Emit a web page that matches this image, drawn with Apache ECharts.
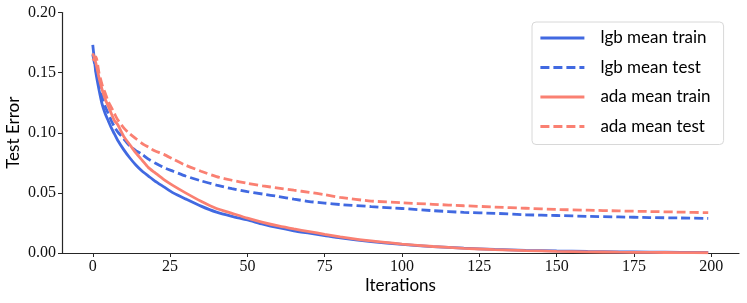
<!DOCTYPE html>
<html>
<head>
<meta charset="utf-8">
<script src="https://cdn.jsdelivr.net/npm/echarts@6/dist/echarts.min.js"></script>
<style>
html,body{margin:0;padding:0;background:#fff;}
#chart{width:747px;height:303px;}
</style>
</head>
<body>
<div id="chart"></div>
<script>
const iterations = [0,1,2,3,4,5,6,7,8,10,12,14,16,18,20,23,26,30,35,40,45,50,55,60,65,70,75,80,90,100,110,120,130,140,150,160,170,180,190,199];
const lgbTrain = [0.173,0.150,0.136,0.124,0.116,0.110,0.104,0.099,0.094,0.086,0.079,0.073,0.068,0.064,0.060,0.055,0.050,0.045,0.039,0.034,0.0305,0.0275,0.024,0.021,0.0185,0.0165,0.0145,0.0125,0.0095,0.0072,0.0053,0.0040,0.0030,0.0022,0.0017,0.0013,0.0010,0.0008,0.0006,0.0005];
const lgbTest = [0.165,0.152,0.140,0.130,0.122,0.116,0.110,0.105,0.101,0.095,0.089,0.085,0.082,0.078,0.075,0.071,0.068,0.064,0.060,0.0565,0.0535,0.051,0.049,0.047,0.0448,0.0428,0.0415,0.0403,0.0386,0.0370,0.0352,0.0338,0.0330,0.0318,0.0312,0.0305,0.0300,0.0295,0.0291,0.0288];
const adaTrain = [0.166,0.158,0.146,0.136,0.128,0.122,0.116,0.110,0.107,0.097,0.090,0.083,0.077,0.071,0.067,0.061,0.056,0.050,0.043,0.037,0.033,0.029,0.0255,0.0225,0.020,0.0178,0.0155,0.0135,0.0100,0.0074,0.0054,0.0039,0.0028,0.0020,0.0014,0.0010,0.0007,0.0005,0.0003,0.0002];
const adaTest = [0.160,0.163,0.150,0.140,0.133,0.126,0.121,0.116,0.111,0.104,0.099,0.095,0.091,0.088,0.085,0.082,0.078,0.073,0.068,0.0635,0.0605,0.058,0.0558,0.0540,0.0522,0.0505,0.0485,0.0462,0.0432,0.0418,0.0405,0.0393,0.0382,0.0372,0.0362,0.0356,0.0350,0.0345,0.0340,0.0335];
const xTicks = [0,25,50,75,100,125,150,175,200];
const seriesNames = ['lgb mean train','lgb mean test','ada mean train','ada mean test'];

const BLUE = '#4169E1', SALMON = '#FA8072';
const pair = arr => iterations.map((it, i) => [it, arr[i]]);
const mk = (name, arr, color, type) => ({
  name, type: 'line', data: pair(arr), symbol: 'none', smooth: 0.2,
  lineStyle: { color, width: 2.8, type: type === 'dashed' ? [9, 4] : 'solid' },
  itemStyle: { color }
});

const chart = echarts.init(document.getElementById('chart'), null, { renderer: 'canvas' });
chart.setOption({
  animation: false,
  backgroundColor: '#fff',
  grid: { left: 62, right: 8, top: 12.5, bottom: 50, containLabel: false, outerBoundsMode: 'none' },
  xAxis: {
    type: 'value', min: -9.95, max: 208.95,
    name: 'Iterations', nameLocation: 'middle', nameGap: 24, nameMoveOverlap: false,
    nameTextStyle: { fontFamily: 'Lato', fontSize: 17, color: '#000' },
    axisLine: { onZero: false, lineStyle: { color: '#262626', width: 1.2 } },
    axisTick: { show: true, customValues: xTicks, length: 4, lineStyle: { color: '#262626', width: 1 } },
    axisLabel: { customValues: xTicks, margin: 6, fontFamily: 'Liberation Serif', fontSize: 16, color: '#111' },
    splitLine: { show: false }
  },
  yAxis: {
    type: 'value', min: 0, max: 0.2, interval: 0.05,
    name: 'Test Error', nameLocation: 'middle', nameGap: 40, nameMoveOverlap: false,
    nameTextStyle: { fontFamily: 'Lato', fontSize: 17, color: '#000' },
    axisLine: { show: true, onZero: false, lineStyle: { color: '#262626', width: 1.2 } },
    axisTick: { show: true, length: 4, lineStyle: { color: '#262626', width: 1 } },
    axisLabel: { margin: 6, fontFamily: 'Liberation Serif', fontSize: 16, color: '#111', formatter: v => v.toFixed(2) },
    splitLine: { show: false }
  },
  legend: {
    orient: 'vertical', left: 532, top: 22,
    data: seriesNames,
    itemWidth: 44, itemHeight: 14, itemGap: 9.5,
    padding: [6, 13, 8, 7],
    borderColor: '#d8d8d8', borderWidth: 1, borderRadius: 4,
    backgroundColor: 'rgba(255,255,255,0.8)',
    itemStyle: { opacity: 0 },
    lineStyle: { width: 2.8 },
    textStyle: { fontFamily: 'Lato', fontSize: 17, color: '#000', lineHeight: 20, padding: [0, 0, 0, 11] }
  },
  series: [
    mk(seriesNames[0], lgbTrain, BLUE, 'solid'),
    mk(seriesNames[1], lgbTest, BLUE, 'dashed'),
    mk(seriesNames[2], adaTrain, SALMON, 'solid'),
    mk(seriesNames[3], adaTest, SALMON, 'dashed')
  ]
});
</script>
</body>
</html>
